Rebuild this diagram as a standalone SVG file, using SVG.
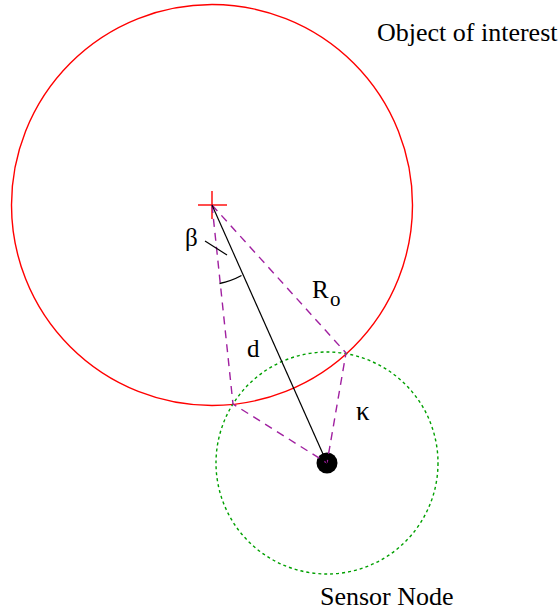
<svg xmlns="http://www.w3.org/2000/svg" width="559" height="613" viewBox="0 0 559 613">
<style>
text { font-family: "Liberation Serif", "Times New Roman", serif; fill: #000; }
.lbl { font-size: 26px; }
.sym { font-size: 25px; }
.dash { stroke: #a020a0; stroke-width: 1.4; stroke-dasharray: 8 6; fill: none; }
</style>
<rect width="559" height="613" fill="#fff"/>
<g id="object">
  <circle cx="212" cy="205" r="200.5" fill="none" stroke="#ff0000" stroke-width="1.4"/>
  <line x1="198" y1="205" x2="227" y2="205" stroke="#ff0000" stroke-width="1.4"/>
  <line x1="212" y1="191" x2="212" y2="219" stroke="#ff0000" stroke-width="1.4"/>
</g>
<g id="sensor">
  <circle cx="327" cy="463" r="111" fill="none" stroke="#00a000" stroke-width="1.4" stroke-dasharray="3 3"/>
  <circle cx="327" cy="463" r="10.5" fill="#000"/>
</g>
<g id="connectors">
  <path class="dash" d="M212 205 L233 404 L327 463"/>
  <path class="dash" d="M212 205 L346 353 L327 463"/>
  <line x1="212" y1="205" x2="327" y2="463" stroke="#000" stroke-width="1.2"/>
  <path d="M219.5 283.5 A79 79 0 0 0 241.5 275.5" fill="none" stroke="#000" stroke-width="1.4"/>
  <line x1="205" y1="241" x2="227" y2="255" stroke="#000" stroke-width="1.2"/>
</g>
<g id="labels">
  <text class="lbl" x="377" y="41">Object of interest</text>
  <text class="lbl" x="320" y="605">Sensor Node</text>
  <text class="sym" x="185" y="246">β</text>
  <text class="sym" x="312" y="298">R</text>
  <text x="330" y="306" style="font-size:21px">o</text>
  <text class="sym" x="247" y="357">d</text>
  <text x="356" y="420" style="font-size:27px">κ</text>
</g>
</svg>
